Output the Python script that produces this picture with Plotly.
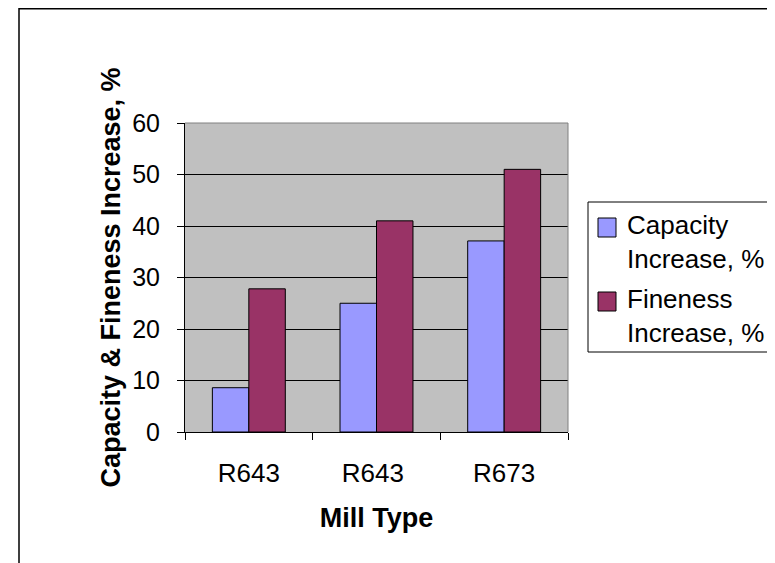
import plotly.graph_objects as go

categories = ["R643", "R643 ", "R673"]
capacity = [8.6, 25.0, 37.1]
fineness = [27.8, 41.0, 51.0]
series_names = ["Capacity<br>Increase, %", "Fineness<br>Increase, %"]
y_ticks = [0, 10, 20, 30, 40, 50, 60]

colors = ["#9999FF", "#993366"]
FONT = "Liberation Sans, Arial, sans-serif"

# page body has an 8px margin; size the figure so the page fits the window
OFF = 8
W, H = 775 - OFF, 563 - OFF
L, R, T, B = 185 - OFF, 568 - OFF, 123 - OFF, 432 - OFF
pw, ph = R - L, B - T


def px(xf):
    return (xf - L) / pw


def py(yf):
    return (B - yf) / ph


fig = go.Figure()
for vals, name, col in zip([capacity, fineness], series_names, colors):
    fig.add_trace(go.Bar(
        x=categories, y=vals, name=name, showlegend=False,
        marker=dict(color=col, line=dict(color="black", width=1)),
    ))

# hand-built legend (box, swatches, labels) placed outside the plot area
leg_box = (580, 194, 765, 344)          # figure px: x0, y0, x1, y1
swatch_x = (590, 608)
swatch_y = [(210, 229), (284, 303)]
label_x = 617
label_mid_y = [234, 308]

shapes = [
    dict(type="line", xref="paper", yref="paper", x0=0, x1=1, y0=1, y1=1,
         line=dict(color="#808080", width=1)),
    dict(type="line", xref="paper", yref="paper", x0=1, x1=1, y0=0, y1=1,
         line=dict(color="#808080", width=1)),
    dict(type="rect", xref="paper", yref="paper",
         x0=px(19 - OFF), x1=px(W + 20), y0=py(H + 20), y1=py(0.75),
         line=dict(color="black", width=1.5), layer="below"),
    dict(type="rect", xref="paper", yref="paper",
         x0=px(leg_box[0]), x1=px(leg_box[2]), y0=py(leg_box[3]), y1=py(leg_box[1]),
         line=dict(color="black", width=1), fillcolor="white"),
]
annotations = []
for (sy0, sy1), col, name, my in zip(swatch_y, colors, series_names, label_mid_y):
    shapes.append(dict(type="rect", xref="paper", yref="paper",
                       x0=px(swatch_x[0]), x1=px(swatch_x[1]), y0=py(sy1), y1=py(sy0),
                       line=dict(color="black", width=1), fillcolor=col))
    annotations.append(dict(xref="paper", yref="paper", x=px(label_x), y=py(my),
                            xanchor="left", yanchor="middle", align="left",
                            showarrow=False, text=name,
                            font=dict(family=FONT, size=26, color="black")))

fig.update_layout(
    width=W, height=H,
    margin=dict(l=L, r=W - R, t=T, b=H - B, pad=0),
    paper_bgcolor="white",
    plot_bgcolor="#C0C0C0",
    barmode="group",
    bargap=0.4286,
    bargroupgap=0,
    font=dict(family=FONT, size=26, color="black"),
    showlegend=False,
    xaxis=dict(
        type="category",
        showgrid=False, showline=True, linecolor="black", linewidth=1,
        mirror=False,
        ticks="outside", ticklen=7, tickcolor="black", tickson="boundaries",
        ticklabelstandoff=18,
        tickfont=dict(family=FONT, size=26),
        title=dict(text="<b>Mill Type</b>", font=dict(family=FONT, size=27), standoff=20),
    ),
    yaxis=dict(
        range=[0, 60], tickvals=y_ticks,
        showgrid=True, gridcolor="black", gridwidth=1,
        showline=True, linecolor="black", linewidth=1,
        ticks="outside", ticklen=7, tickcolor="black",
        ticklabelstandoff=12,
        tickfont=dict(family=FONT, size=25),
        zeroline=False,
        title=dict(text="<b>Capacity & Fineness Increase, %</b>",
                   font=dict(family=FONT, size=27), standoff=3),
    ),
    shapes=shapes,
    annotations=annotations,
)

fig.write_html("out.html")
